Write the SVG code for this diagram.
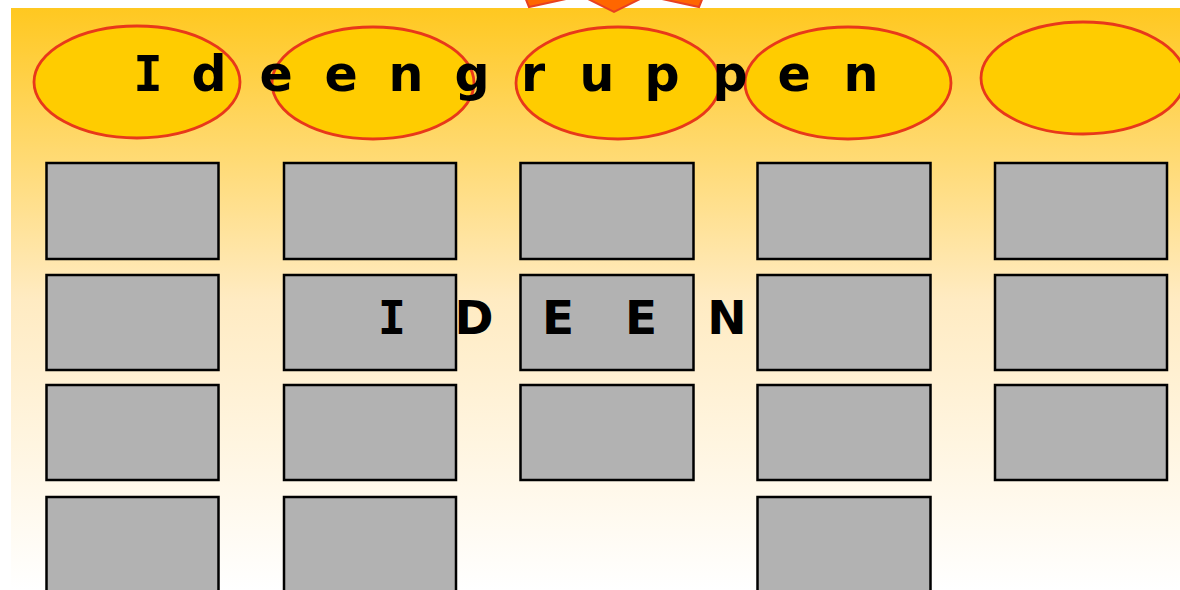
<svg xmlns="http://www.w3.org/2000/svg" width="1180" height="590" viewBox="0 0 1180 590">
<defs>
<linearGradient id="bg" x1="0" y1="0" x2="0" y2="1">
<stop offset="0" stop-color="#FFC820"/>
<stop offset="0.5" stop-color="#FFEBC2"/>
<stop offset="1" stop-color="#FFFFFF"/>
</linearGradient>
<style>
.grp{fill:#FFCC00;stroke:#E8381A;stroke-width:2.8}
.idea{fill:#B2B2B2;stroke:#000;stroke-width:2.5}
.lbl{font-family:"DejaVu Sans","Liberation Sans",sans-serif;font-weight:bold;fill:#000;text-anchor:middle}
.mono{font-family:"DejaVu Sans Mono","Liberation Mono",monospace}
</style>
</defs>
<rect width="1180" height="590" fill="#FFFFFF"/>
<rect x="11" y="8" width="1169" height="582" fill="url(#bg)"/>
<path d="M518,-20 L529,7 L566,-1 L588,-1 L614,12 L640,-1 L662,-1 L699,7 L710,-20 Z" fill="#FF6600" stroke="#E8401F" stroke-width="2"/>
<g id="groups">
<g id="group1"><ellipse class="grp" cx="137" cy="82" rx="103" ry="56"/></g>
<g id="group2"><ellipse class="grp" cx="373" cy="83" rx="101" ry="56"/></g>
<g id="group3"><ellipse class="grp" cx="618" cy="83" rx="102" ry="56"/></g>
<g id="group4"><ellipse class="grp" cx="848" cy="83" rx="103" ry="56"/></g>
<g id="group5"><ellipse class="grp" cx="1083" cy="78" rx="102" ry="56"/></g>
</g>
<g id="ideas">
<g id="c1r1"><rect class="idea" x="46.5" y="163" width="172" height="96"/></g>
<g id="c1r2"><rect class="idea" x="46.5" y="275" width="172" height="95"/></g>
<g id="c1r3"><rect class="idea" x="46.5" y="385" width="172" height="95"/></g>
<g id="c1r4"><rect class="idea" x="46.5" y="497" width="172" height="96"/></g>
<g id="c2r1"><rect class="idea" x="284" y="163" width="172" height="96"/></g>
<g id="c2r2"><rect class="idea" x="284" y="275" width="172" height="95"/></g>
<g id="c2r3"><rect class="idea" x="284" y="385" width="172" height="95"/></g>
<g id="c2r4"><rect class="idea" x="284" y="497" width="172" height="96"/></g>
<g id="c3r1"><rect class="idea" x="520.5" y="163" width="173" height="96"/></g>
<g id="c3r2"><rect class="idea" x="520.5" y="275" width="173" height="95"/></g>
<g id="c3r3"><rect class="idea" x="520.5" y="385" width="173" height="95"/></g>
<g id="c4r1"><rect class="idea" x="757.5" y="163" width="173" height="96"/></g>
<g id="c4r2"><rect class="idea" x="757.5" y="275" width="173" height="95"/></g>
<g id="c4r3"><rect class="idea" x="757.5" y="385" width="173" height="95"/></g>
<g id="c4r4"><rect class="idea" x="757.5" y="497" width="173" height="96"/></g>
<g id="c5r1"><rect class="idea" x="995" y="163" width="172" height="96"/></g>
<g id="c5r2"><rect class="idea" x="995" y="275" width="172" height="95"/></g>
<g id="c5r3"><rect class="idea" x="995" y="385" width="172" height="95"/></g>
</g>
<g id="titles">
<text class="lbl" font-size="49" y="91"><tspan class="mono" x="148">I</tspan><tspan x="209 276 341 406 472 533 597 662 730 794 861">deengruppen</tspan></text>
<text class="lbl" font-size="47" y="334"><tspan class="mono" x="392">I</tspan><tspan x="474 558 641 727">DEEN</tspan></text>
</g>
</svg>
